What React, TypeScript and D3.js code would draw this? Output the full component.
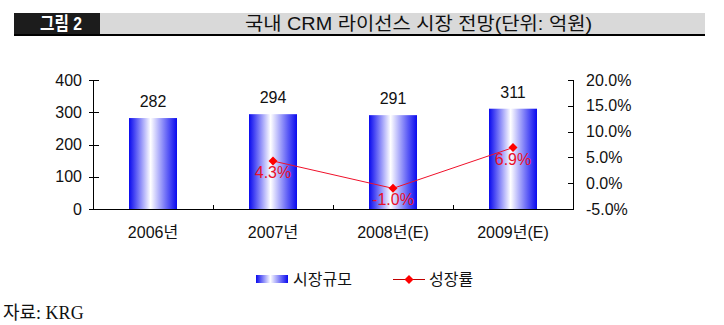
import React from "react";
import * as d3 from "d3";

const categories = ["2006년", "2007년", "2008년(E)", "2009년(E)"];
const marketSize = [282, 294, 291, 311];
const growthRate: (number | null)[] = [null, 4.3, -1.0, 6.9];
const growthLabels = ["", "4.3%", "-1.0%", "6.9%"];
const leftTicks = [0, 100, 200, 300, 400];
const rightTicks = [-5, 0, 5, 10, 15, 20];

const FONT = "'Liberation Sans', Arial, 'Noto Sans CJK KR', sans-serif";

export default function App() {
  const x = d3.scaleBand<string>().domain(categories).range([93, 573]).paddingInner(0.6).paddingOuter(0.3);
  const yL = d3.scaleLinear().domain([0, 400]).range([209, 80]);
  const yR = d3.scaleLinear().domain([-5, 20]).range([209, 80]);
  const step = x.step();
  const cx = (c: string) => (x(c) as number) + x.bandwidth() / 2;

  const pts = categories
    .map((c, i) => ({ c, v: growthRate[i], l: growthLabels[i] }))
    .filter((d) => d.v !== null) as { c: string; v: number; l: string }[];
  const line = d3
    .line<{ c: string; v: number }>()
    .x((d) => cx(d.c))
    .y((d) => yR(d.v));
  const diamond = "M0,-4.5L4.5,0L0,4.5L-4.5,0Z";

  const divs = d3.range(1, categories.length).map((i) => 93 + i * step);

  return (
    <svg width={724} height={325} style={{ position: "absolute", left: 0, top: 0, background: "#fff" }}>
      <defs>
        <linearGradient id="barGrad" x1="0" x2="1" y1="0" y2="0">
          <stop offset="0" stopColor="#0a0aee" />
          <stop offset="0.12" stopColor="#4a4af4" />
          <stop offset="0.45" stopColor="#ffffff" />
          <stop offset="0.8" stopColor="#6060f6" />
          <stop offset="1" stopColor="#0a0aee" />
        </linearGradient>
      </defs>

      {/* title bar */}
      <rect x={14} y={13} width={86} height={22} fill="#1c1c1c" />
      <rect x={100} y={13} width={605} height={22} fill="#d9d9d9" />
      <line x1={14} x2={705} y1={35} y2={35} stroke="#000" strokeWidth={2} />
      <text x={61} y={30} fill="#fff" fontSize={18} fontWeight="bold" textAnchor="middle" fontFamily={FONT} textLength={42} lengthAdjust="spacingAndGlyphs">
        그림 2
      </text>
      <text x={245} y={30} fill="#111" fontSize={18} fontFamily={FONT} textLength={347} lengthAdjust="spacingAndGlyphs">
        국내 CRM 라이선스 시장 전망(단위: 억원)
      </text>

      {/* bars */}
      {categories.map((c, i) => (
        <rect key={c} x={x(c)} y={yL(marketSize[i])} width={x.bandwidth()} height={yL(0) - yL(marketSize[i])} fill="url(#barGrad)" />
      ))}
      {categories.map((c, i) => (
        <text key={c} x={cx(c)} y={yL(marketSize[i]) - 11} fontSize={16} textAnchor="middle" fontFamily={FONT} fill="#111">
          {marketSize[i]}
        </text>
      ))}

      {/* axes */}
      <line x1={93.5} x2={93.5} y1={80} y2={209} stroke="#000" />
      <line x1={573.5} x2={573.5} y1={80} y2={209} stroke="#000" />
      <line x1={93} x2={574} y1={209.5} y2={209.5} stroke="#000" />
      {leftTicks.map((t) => (
        <g key={t}>
          <line x1={89} x2={99} y1={Math.round(yL(t)) + 0.5} y2={Math.round(yL(t)) + 0.5} stroke="#000" />
          <text x={82} y={yL(t) + 5.5} fontSize={16} textAnchor="end" fontFamily={FONT} fill="#111">
            {t}
          </text>
        </g>
      ))}
      {rightTicks.map((t) => (
        <g key={t}>
          <line x1={568} x2={574} y1={Math.round(yR(t)) + 0.5} y2={Math.round(yR(t)) + 0.5} stroke="#000" />
          <text x={586} y={yR(t) + 5.5} fontSize={16} textAnchor="start" fontFamily={FONT} fill="#111">
            {t.toFixed(1) + "%"}
          </text>
        </g>
      ))}
      {divs.map((d) => (
        <line key={d} x1={d + 0.5} x2={d + 0.5} y1={205} y2={209} stroke="#000" />
      ))}
      {categories.map((c) => (
        <text key={c} x={cx(c)} y={238} fontSize={16} textAnchor="middle" fontFamily={FONT} fill="#111">
          {c}
        </text>
      ))}

      {/* growth line */}
      <path d={line(pts) as string} fill="none" stroke="#f0102a" strokeWidth={1} />
      {pts.map((p) => (
        <path key={p.c} d={diamond} transform={`translate(${cx(p.c)},${yR(p.v)})`} fill="#ff0000" />
      ))}
      {pts.map((p) => (
        <text key={p.c} x={cx(p.c)} y={yR(p.v) + 17} fontSize={16} textAnchor="middle" fontFamily={FONT} fill="#e8102a">
          {p.l}
        </text>
      ))}

      {/* legend */}
      <rect x={256} y={275} width={32} height={8} fill="url(#barGrad)" />
      <text x={293} y={285} fontSize={16} fontFamily={FONT} fill="#111">
        시장규모
      </text>
      <line x1={393} x2={425} y1={279.5} y2={279.5} stroke="#c00000" />
      <path d={diamond} transform="translate(409,279.5)" fill="#ff0000" />
      <text x={429} y={285} fontSize={16} fontFamily={FONT} fill="#111">
        성장률
      </text>

      {/* source */}
      <text x={3} y={319} fontSize={18} fontFamily="'Liberation Serif', 'DejaVu Serif', 'Noto Sans CJK KR', serif" fill="#111">
        자료:  KRG
      </text>
    </svg>
  );
}
